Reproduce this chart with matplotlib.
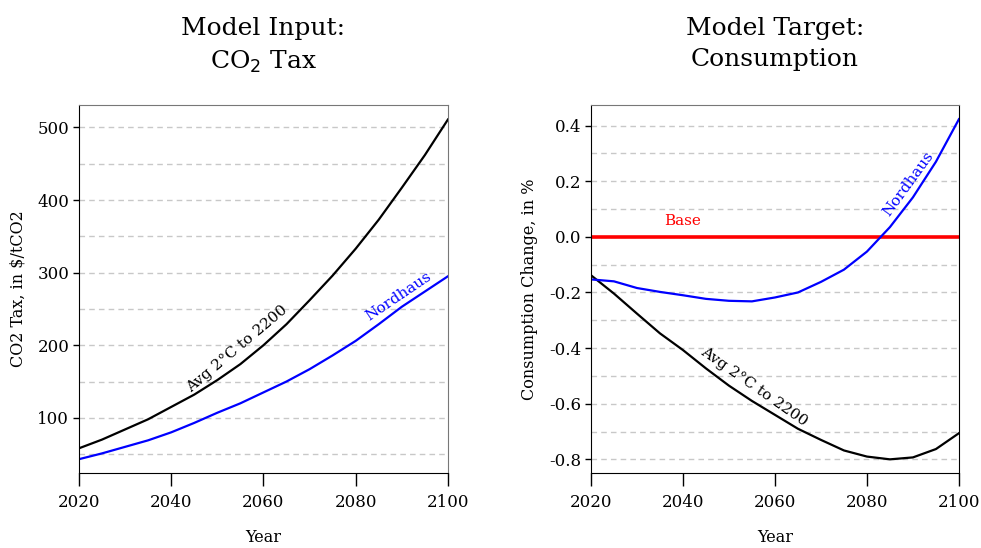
import matplotlib
matplotlib.use("Agg")
import matplotlib.pyplot as plt

plt.rcParams['font.family'] = ['DejaVu Serif']
plt.rcParams['axes.unicode_minus'] = False

# left panel: CO2 tax, $/tCO2
tax_years = [2020, 2025, 2030, 2035, 2040, 2045, 2050, 2055, 2060,
             2065, 2070, 2075, 2080, 2085, 2090, 2095, 2100]
tax_avg2c = [58, 70, 84, 98, 115, 132, 152, 174, 200,
             229, 262, 296, 333, 373, 417, 462, 511]
tax_nordhaus = [43, 51, 60, 69, 80, 93, 107, 120, 135,
                150, 167, 186, 206, 229, 253, 274, 295]

# right panel: consumption change, %
cons_years = [2020, 2025, 2030, 2035, 2040, 2045, 2050, 2055, 2060,
              2065, 2070, 2075, 2080, 2085, 2090, 2095, 2100]
cons_avg2c = [-0.138, -0.204, -0.276, -0.347, -0.407, -0.473, -0.535, -0.59, -0.64,
              -0.69, -0.73, -0.768, -0.79, -0.80, -0.793, -0.763, -0.706]
cons_nordhaus = [-0.153, -0.16, -0.184, -0.198, -0.21, -0.223, -0.23, -0.232, -0.218,
                 -0.2, -0.162, -0.118, -0.053, 0.035, 0.142, 0.27, 0.423]
cons_base = [0.0, 0.0]

xticks = [2020, 2040, 2060, 2080, 2100]

fig = plt.figure(figsize=(9.81, 5.48), dpi=100)
ax1 = fig.add_axes([0.0805, 0.1369, 0.3761, 0.6715])
ax2 = fig.add_axes([0.6024, 0.1369, 0.3751, 0.6715])


def style(ax, right_col, title):
    ax.spines['left'].set_color('black')
    ax.spines['bottom'].set_color('black')
    ax.spines['top'].set_color('#777777')
    ax.spines['right'].set_color(right_col)
    ax.tick_params(axis='x', length=9, width=1, labelsize=12, pad=6)
    ax.tick_params(axis='y', length=4, width=1, labelsize=12, pad=3)
    ax.set_xlim(2020, 2100)
    ax.set_xticks(xticks)
    ax.set_xlabel("Year", fontsize=11.5, labelpad=13)
    ax.text(0.5, 1.24, title, transform=ax.transAxes, ha='center', va='top',
            fontsize=18, linespacing=1.45)


# ---- left
for v in range(50, 550, 50):
    ax1.axhline(v, color='#c8c8c8', lw=1, ls=(0, (4, 3)), zorder=0)
ax1.plot(tax_years, tax_avg2c, color='black', lw=1.6)
ax1.plot(tax_years, tax_nordhaus, color='blue', lw=1.6)
ax1.set_ylim(24, 531)
ax1.set_yticks([100, 200, 300, 400, 500])
ax1.set_ylabel("CO2 Tax, in $/tCO2", fontsize=11.5, labelpad=8)
ax1.text(2054.3, 195, "Avg 2°C to 2200", rotation=40, ha='center', va='center',
         fontsize=11, color='black')
ax1.text(2089.2, 267, "Nordhaus", rotation=34, ha='center', va='center',
         fontsize=11, color='blue')
style(ax1, '#777777', "Model Input:\nCO$_2$ Tax")

# ---- right
for i in range(-8, 5):
    ax2.axhline(i / 10, color='#c8c8c8', lw=1, ls=(0, (4, 3)), zorder=0)
ax2.plot([2020, 2100], cons_base, color='red', lw=2.6)
ax2.plot(cons_years, cons_avg2c, color='black', lw=1.6)
ax2.plot(cons_years, cons_nordhaus, color='blue', lw=1.6)
ax2.set_ylim(-0.849, 0.474)
yt = [0.4, 0.2, 0.0, -0.2, -0.4, -0.6, -0.8]
ax2.set_yticks(yt)
ax2.set_yticklabels(["%.1f" % v for v in yt])
ax2.set_ylabel("Consumption Change, in %", fontsize=11.5, labelpad=8)
ax2.text(2040, 0.058, "Base", ha='center', va='center', fontsize=11, color='red')
ax2.text(2088.9, 0.19, "Nordhaus", rotation=54, ha='center', va='center',
         fontsize=11, color='blue')
ax2.text(2055.4, -0.537, "Avg 2°C to 2200", rotation=-35, ha='center', va='center',
         fontsize=11, color='black')
style(ax2, 'black', "Model Target:\nConsumption")

fig.savefig("out.png", dpi=100)
